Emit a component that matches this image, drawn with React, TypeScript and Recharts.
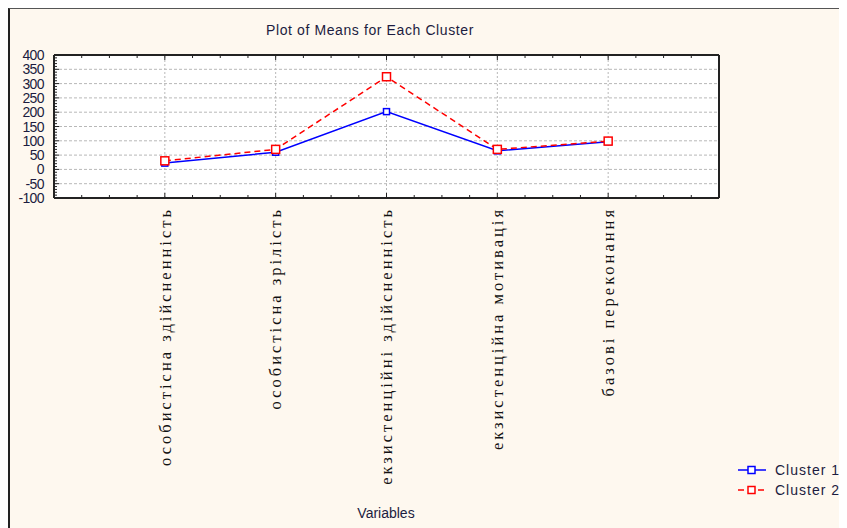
import { LineChart, Line, XAxis, YAxis, CartesianGrid, ReferenceLine } from "recharts";

const variables = [
  "особистісна здійсненність",
  "особистісна зрілість",
  "екзистенційні здійсненність",
  "екзистенційна мотивація",
  "базові переконання",
];
const cluster1 = [22, 60, 202, 65, 97];
const cluster2 = [30, 70, 324, 70, 99];
const yLabels = [-100, -50, 0, 50, 100, 150, 200, 250, 300, 350, 400];
const gridY = [-50, 0, 50, 100, 150, 200, 250, 300, 350];

const series = [
  { key: "c1", name: "Cluster 1", color: "#0000ff", dash: undefined as string | undefined, size: 6 },
  { key: "c2", name: "Cluster 2", color: "#ff0000", dash: "6 4", size: 8 },
];

const data = variables.map((name, i) => ({ x: i + 1, name, c1: cluster1[i], c2: cluster2[i] }));

// tick positions only (minor marks along the frame)
const xTicks = Array.from({ length: 25 }, (_, i) => i * 0.25);
const yTicks = Array.from({ length: 51 }, (_, i) => -100 + i * 10);

const ink = "#1c1c40";
const frame = "#222";

const BottomTick = (p: any) => {
  const v = p.payload.value;
  const major = Number.isInteger(v) && v > 0 && v < 6;
  const ly = p.y + 9;
  return (
    <g>
      <line x1={p.x} x2={p.x} y1={p.y} y2={p.y - (major ? 5 : 3)} stroke={frame} />
      {major && (
        <text
          x={p.x}
          y={ly}
          dy="0.35em"
          transform={`rotate(-90 ${p.x} ${ly})`}
          textAnchor="end"
          fontFamily="'Liberation Serif', serif"
          fontSize={16.5}
          letterSpacing={3}
          fill="#111"
        >
          {variables[v - 1]}
        </text>
      )}
    </g>
  );
};

const TopTick = (p: any) => {
  const v = p.payload.value;
  const major = Number.isInteger(v);
  return <line x1={p.x} x2={p.x} y1={p.y} y2={p.y + (major ? 5 : 3)} stroke={frame} />;
};

const LeftTick = (p: any) => {
  const v = p.payload.value;
  const major = yLabels.includes(v);
  return (
    <g>
      <line x1={p.x} x2={p.x + (major ? 5 : 3)} y1={p.y} y2={p.y} stroke={frame} />
      {major && (
        <text
          x={p.x - 10}
          y={p.y}
          dy="0.36em"
          textAnchor="end"
          fontFamily="'Liberation Sans', Arial, sans-serif"
          fontSize={14}
          letterSpacing={-0.6}
          fill={ink}
        >
          {v}
        </text>
      )}
    </g>
  );
};

const RightTick = (p: any) => {
  const v = p.payload.value;
  const major = yLabels.includes(v);
  return <line x1={p.x} x2={p.x - (major ? 5 : 3)} y1={p.y} y2={p.y} stroke={frame} />;
};

const squareDot = (color: string, size: number) => (p: any) => (
  <rect
    key={p.key ?? p.index}
    x={p.cx - size / 2}
    y={p.cy - size / 2}
    width={size}
    height={size}
    fill="#fff"
    stroke={color}
    strokeWidth={1.5}
  />
);

const LegendBox = () => (
  <div
    style={{
      position: "absolute",
      left: 727,
      top: 451,
      fontFamily: "'Liberation Sans', Arial, sans-serif",
      fontSize: 14,
      color: ink,
      letterSpacing: 1,
    }}
  >
    {series.map((s) => (
      <div key={s.key} style={{ display: "flex", alignItems: "center", height: 20 }}>
        <svg width={30} height={12} style={{ marginRight: 8 }}>
          <line x1={1} x2={29} y1={6} y2={6} stroke={s.color} strokeWidth={1.5} strokeDasharray={s.dash ? "6 4" : undefined} />
          <rect x={11} y={2.5} width={7} height={7} fill="#fff" stroke={s.color} strokeWidth={1.5} />
        </svg>
        <span>{s.name}</span>
      </div>
    ))}
  </div>
);

export default function App() {
  return (
    <div
      style={{
        position: "relative",
        width: 839,
        height: 520,
        boxSizing: "border-box",
        background: "#fef8ef",
        borderTop: "1px solid #555",
        borderLeft: "2px solid #222",
        fontFamily: "'Liberation Sans', Arial, sans-serif",
      }}
    >
      <div
        style={{
          position: "absolute",
          left: 0,
          width: 720,
          top: 13,
          textAlign: "center",
          fontSize: 14,
          letterSpacing: 0.6,
          color: ink,
        }}
      >
        Plot of Means for Each Cluster
      </div>
      <div
        style={{
          position: "absolute",
          left: 0,
          width: 752,
          top: 496,
          textAlign: "center",
          fontSize: 14,
          color: ink,
        }}
      >
        Variables
      </div>
      <LineChart width={837} height={519} data={data} margin={{ top: 45, right: 127, bottom: 0, left: 0 }}>
        <CartesianGrid fill="#fff" horizontal={false} vertical={false} />
        <XAxis
          dataKey="x"
          type="number"
          domain={[0, 6]}
          ticks={xTicks}
          interval={0}
          height={330}
          tickSize={0}
          tickMargin={0}
          tickLine={false}
          tick={BottomTick}
          axisLine={{ stroke: frame, strokeWidth: 2 }}
        />
        <XAxis
          xAxisId="top"
          dataKey="x"
          orientation="top"
          type="number"
          domain={[0, 6]}
          ticks={xTicks}
          interval={0}
          height={1}
          tickSize={0}
          tickMargin={0}
          tickLine={false}
          tick={TopTick}
          axisLine={{ stroke: frame, strokeWidth: 2 }}
        />
        <YAxis
          type="number"
          domain={[-100, 400]}
          ticks={yTicks}
          interval={0}
          width={44}
          tickSize={0}
          tickMargin={0}
          tickLine={false}
          tick={LeftTick}
          allowDataOverflow
          axisLine={{ stroke: frame, strokeWidth: 2 }}
        />
        <YAxis
          yAxisId="right"
          orientation="right"
          type="number"
          domain={[-100, 400]}
          ticks={yTicks}
          interval={0}
          width={1}
          tickSize={0}
          tickMargin={0}
          tickLine={false}
          tick={RightTick}
          axisLine={{ stroke: frame, strokeWidth: 2 }}
        />
        {gridY.map((v) => (
          <ReferenceLine key={"y" + v} y={v} stroke="#b8b8b8" strokeDasharray="3 2" />
        ))}
        {data.map((d) => (
          <ReferenceLine key={"x" + d.x} x={d.x} stroke="#b8b8b8" strokeDasharray="2 2" />
        ))}
        {series.map((s) => (
          <Line
            key={s.key}
            dataKey={s.key}
            name={s.name}
            stroke={s.color}
            strokeWidth={1.5}
            strokeDasharray={s.dash}
            dot={squareDot(s.color, s.size)}
            activeDot={false}
            isAnimationActive={false}
          />
        ))}
      </LineChart>
      <LegendBox />
    </div>
  );
}
